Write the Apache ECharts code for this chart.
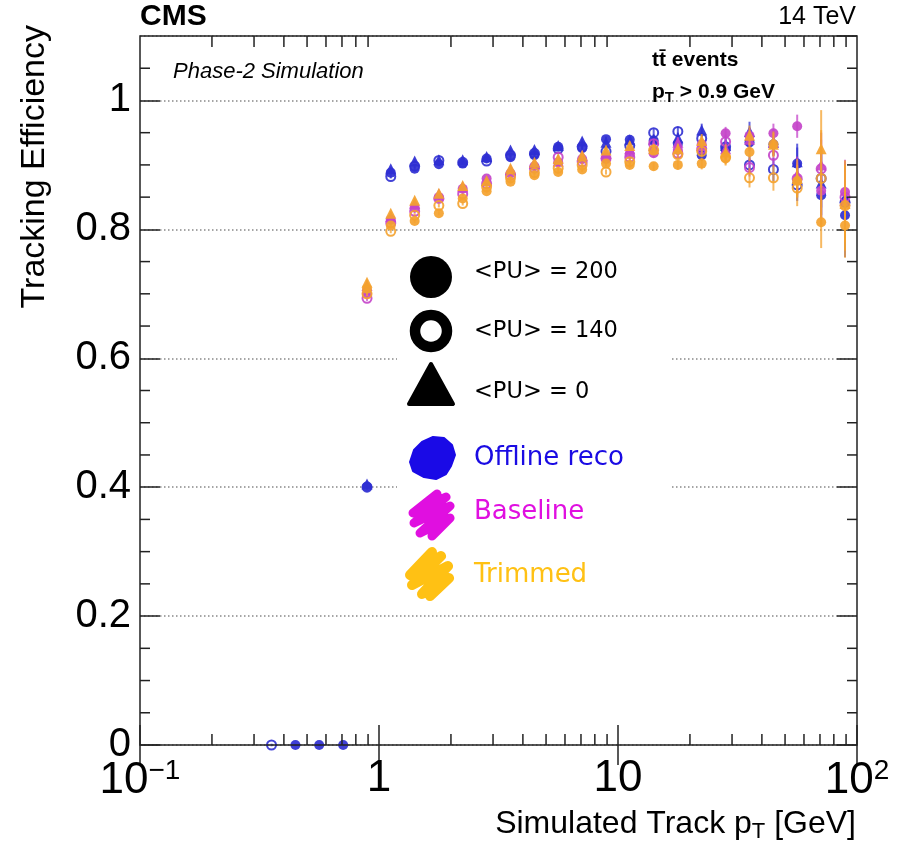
<!DOCTYPE html>
<html>
<head>
<meta charset="utf-8">
<script src="https://cdn.jsdelivr.net/npm/echarts@6/dist/echarts.min.js"></script>
<style>
html, body { margin: 0; padding: 0; background: #fff; }
#chart { width: 898px; height: 846px; }
</style>
</head>
<body>
<div id="chart"></div>
<script>
// Simulated track pT bin centres [GeV]
const ptBins = [0.355, 0.447, 0.562, 0.708, 0.891, 1.12, 1.41, 1.78, 2.24, 2.82, 3.55, 4.47, 5.62,
                7.08, 8.91, 11.2, 14.1, 17.8, 22.4, 28.2, 35.5, 44.7, 56.2, 70.8, 89.1];

// Tracking efficiency, Offline reco
const offlinePU200 = [null, 0, 0, 0, 0.401, 0.888, 0.894, 0.901, 0.902, 0.910, 0.912, 0.915, 0.928,
                      0.926, 0.940, 0.939, 0.938, 0.933, 0.915, 0.924, 0.935, 0.932, 0.902, 0.853, 0.822];
const offlinePU140 = [0, null, null, null, 0.400, 0.882, 0.898, 0.907, 0.904, 0.906, 0.915, 0.918, 0.925,
                      0.928, 0.921, 0.930, 0.950, 0.952, 0.941, 0.928, 0.900, 0.893, 0.869, 0.879, 0.842];
const offlinePU0   = [null, null, null, null, 0.405, 0.894, 0.906, 0.908, 0.908, 0.913, 0.923, 0.924, 0.930,
                      0.937, 0.935, 0.939, 0.940, 0.942, 0.954, 0.930, 0.952, 0.935, 0.905, 0.872, 0.850];
// Tracking efficiency, Baseline
const baselinePU200 = [null, null, null, null, 0.700, 0.815, 0.834, 0.850, 0.863, 0.879, 0.887, 0.898, 0.904,
                       0.909, 0.910, 0.917, 0.918, 0.923, 0.932, 0.949, 0.945, 0.949, 0.960, 0.860, 0.858];
const baselinePU140 = [null, null, null, null, 0.693, 0.810, 0.828, 0.848, 0.855, 0.871, 0.884, 0.895, 0.912,
                       0.905, 0.910, 0.912, 0.933, 0.918, 0.925, 0.936, 0.896, 0.915, 0.879, 0.894, 0.850];
const baselinePU0   = [null, null, null, null, 0.713, 0.820, 0.840, 0.855, 0.866, 0.876, 0.893, 0.902, 0.906,
                       0.915, 0.918, 0.925, 0.930, 0.935, 0.930, 0.925, 0.940, 0.935, 0.885, 0.900, 0.845];
// Tracking efficiency, Trimmed
const trimmedPU200 = [null, null, null, null, 0.708, 0.806, 0.813, 0.825, 0.848, 0.859, 0.874, 0.884, 0.889,
                      0.893, 0.902, 0.900, 0.898, 0.900, 0.902, 0.910, 0.920, 0.932, 0.875, 0.811, 0.806];
const trimmedPU140 = [null, null, null, null, 0.700, 0.797, 0.822, 0.837, 0.840, 0.866, 0.880, 0.888, 0.895,
                      0.900, 0.889, 0.905, 0.923, 0.916, 0.921, 0.912, 0.880, 0.880, 0.864, 0.879, 0.837];
const trimmedPU0   = [null, null, null, null, 0.718, 0.825, 0.845, 0.856, 0.868, 0.876, 0.895, 0.904, 0.910,
                      0.915, 0.923, 0.930, 0.925, 0.925, 0.938, 0.920, 0.946, 0.932, 0.879, 0.925, 0.840];

// Statistical uncertainties (half-length of the error bars)
const errOffline200  = [0, 0.002, 0.002, 0.002, 0.004, 0.003, 0.003, 0.003, 0.003, 0.003, 0.003, 0.003, 0.003,
                        0.004, 0.004, 0.005, 0.006, 0.007, 0.009, 0.011, 0.014, 0.018, 0.025, 0.045, 0.065];
const errOffline140  = [0.002, 0, 0, 0, 0.004, 0.003, 0.003, 0.003, 0.003, 0.003, 0.003, 0.003, 0.003,
                        0.004, 0.004, 0.005, 0.006, 0.007, 0.009, 0.011, 0.014, 0.018, 0.025, 0.045, 0.055];
const errOffline0    = [0, 0, 0, 0, 0.004, 0.003, 0.003, 0.003, 0.003, 0.003, 0.003, 0.003, 0.003,
                        0.004, 0.004, 0.006, 0.007, 0.008, 0.010, 0.012, 0.015, 0.020, 0.028, 0.050, 0.050];
const errBaseline200 = [0, 0, 0, 0, 0.004, 0.003, 0.003, 0.003, 0.003, 0.003, 0.003, 0.003, 0.003,
                        0.004, 0.004, 0.005, 0.006, 0.007, 0.009, 0.010, 0.012, 0.015, 0.018, 0.045, 0.050];
const errBaseline140 = [0, 0, 0, 0, 0.004, 0.003, 0.003, 0.003, 0.003, 0.003, 0.003, 0.003, 0.003,
                        0.004, 0.004, 0.005, 0.006, 0.007, 0.009, 0.011, 0.014, 0.018, 0.025, 0.045, 0.055];
const errBaseline0   = [0, 0, 0, 0, 0.004, 0.003, 0.003, 0.003, 0.003, 0.003, 0.003, 0.003, 0.003,
                        0.004, 0.004, 0.006, 0.007, 0.008, 0.010, 0.012, 0.015, 0.020, 0.028, 0.050, 0.050];
const errTrimmed200  = [0, 0, 0, 0, 0.004, 0.003, 0.003, 0.003, 0.003, 0.003, 0.003, 0.003, 0.003,
                        0.004, 0.004, 0.005, 0.006, 0.007, 0.009, 0.011, 0.014, 0.018, 0.025, 0.040, 0.050];
const errTrimmed140  = [0, 0, 0, 0, 0.004, 0.003, 0.003, 0.003, 0.003, 0.003, 0.003, 0.003, 0.003,
                        0.004, 0.004, 0.005, 0.006, 0.007, 0.009, 0.011, 0.015, 0.020, 0.028, 0.075, 0.070];
const errTrimmed0    = [0, 0, 0, 0, 0.004, 0.003, 0.003, 0.003, 0.003, 0.003, 0.003, 0.003, 0.003,
                        0.004, 0.004, 0.006, 0.007, 0.008, 0.010, 0.012, 0.015, 0.020, 0.030, 0.060, 0.060];

// Axis ticks and labels
const xMinorTicks = [0.2, 0.3, 0.4, 0.5, 0.6, 0.7, 0.8, 0.9, 2, 3, 4, 5, 6, 7, 8, 9, 20, 30, 40, 50, 60, 70, 80, 90];
const yMinorTicks = [0.05, 0.1, 0.15, 0.25, 0.3, 0.35, 0.45, 0.5, 0.55, 0.65, 0.7, 0.75, 0.85, 0.9, 0.95, 1.05];
const xTickLabels = { '-1': '{b|10}{s|−1}', '0': '{b|1}', '1': '{b|10}', '2': '{b|10}{s|2}' };

const BLUE = '#2f2fd2', MAGENTA = '#c444c9', ORANGE = '#f4a22e';

const seriesDefs = [
  { name: 'Offline reco <PU> = 0',   values: offlinePU0,    errors: errOffline0,    color: BLUE,    marker: 'triangle' },
  { name: 'Offline reco <PU> = 140', values: offlinePU140,  errors: errOffline140,  color: BLUE,    marker: 'open' },
  { name: 'Offline reco <PU> = 200', values: offlinePU200,  errors: errOffline200,  color: BLUE,    marker: 'filled' },
  { name: 'Baseline <PU> = 0',       values: baselinePU0,   errors: errBaseline0,   color: MAGENTA, marker: 'triangle' },
  { name: 'Baseline <PU> = 140',     values: baselinePU140, errors: errBaseline140, color: MAGENTA, marker: 'open' },
  { name: 'Baseline <PU> = 200',     values: baselinePU200, errors: errBaseline200, color: MAGENTA, marker: 'filled' },
  { name: 'Trimmed <PU> = 0',        values: trimmedPU0,    errors: errTrimmed0,    color: ORANGE,  marker: 'triangle' },
  { name: 'Trimmed <PU> = 140',      values: trimmedPU140,  errors: errTrimmed140,  color: ORANGE,  marker: 'open' },
  { name: 'Trimmed <PU> = 200',      values: trimmedPU200,  errors: errTrimmed200,  color: ORANGE,  marker: 'filled' }
];

const chart = echarts.init(document.getElementById('chart'), null, { renderer: 'canvas' });

function points(def) {
  const out = [];
  ptBins.forEach((pt, i) => {
    if (def.values[i] !== null) out.push([pt, def.values[i], def.errors[i]]);
  });
  return out;
}

function errorBar(params, api) {
  const x = api.value(0), y = api.value(1), e = api.value(2);
  if (!e) return null;
  const lo = api.coord([x, y - e]);
  const hi = api.coord([x, y + e]);
  return {
    type: 'line',
    shape: { x1: lo[0], y1: lo[1], x2: hi[0], y2: hi[1] },
    style: { stroke: api.visual('color'), lineWidth: 2, opacity: 0.75 }
  };
}

const series = [];
seriesDefs.forEach((def, k) => {
  const data = points(def);
  series.push({
    type: 'custom',
    name: def.name + ' err',
    renderItem: errorBar,
    data: data,
    itemStyle: { color: def.color },
    z: 3 + k,
    silent: true,
    clip: false
  });
  const isOpen = def.marker === 'open';
  series.push({
    type: 'scatter',
    name: def.name,
    data: data,
    symbol: def.marker === 'triangle' ? 'triangle' : 'circle',
    symbolSize: def.marker === 'triangle' ? 11 : (isOpen ? 9 : 10),
    itemStyle: isOpen
      ? { color: 'rgba(255,255,255,0)', borderColor: def.color, borderWidth: 2, opacity: 0.9 }
      : { color: def.color, opacity: 0.92 },
    z: 3 + k,
    clip: false,
    silent: true
  });
});

// Minor tick marks on all four frame sides
series.push({
  type: 'custom',
  name: 'x minor ticks',
  silent: true,
  clip: false,
  z: 20,
  data: xMinorTicks.map(v => [v, 0.5]),
  renderItem: (params, api) => {
    const cs = params.coordSys;
    const x = api.coord([api.value(0), 0])[0];
    const top = cs.y, bottom = cs.y + cs.height;
    return {
      type: 'group',
      children: [
        { type: 'line', shape: { x1: x, y1: bottom, x2: x, y2: bottom - 11 }, style: { stroke: '#222', lineWidth: 1.5 } },
        { type: 'line', shape: { x1: x, y1: top, x2: x, y2: top + 11 }, style: { stroke: '#222', lineWidth: 1.5 } }
      ]
    };
  }
});
series.push({
  type: 'custom',
  name: 'y minor ticks',
  silent: true,
  clip: false,
  z: 20,
  data: yMinorTicks.map(v => [1, v]),
  renderItem: (params, api) => {
    const cs = params.coordSys;
    const y = api.coord([1, api.value(1)])[1];
    const left = cs.x, right = cs.x + cs.width;
    return {
      type: 'group',
      children: [
        { type: 'line', shape: { x1: left, y1: y, x2: left + 10, y2: y }, style: { stroke: '#222', lineWidth: 1.5 } },
        { type: 'line', shape: { x1: right, y1: y, x2: right - 10, y2: y }, style: { stroke: '#222', lineWidth: 1.5 } }
      ]
    };
  }
});

const SANS = '"Liberation Sans", Arial, Helvetica, sans-serif';
const LEG = '"DejaVu Sans", "Noto Sans", sans-serif';

const majorTick = { show: true, inside: true, length: 20, lineStyle: { color: '#222', width: 1.5 } };

const option = {
  backgroundColor: '#fff',
  animation: false,
  grid: { left: 140, right: 41, top: 36, bottom: 101, show: true, borderColor: '#222', borderWidth: 1.5, backgroundColor: 'transparent', z: 10 },
  xAxis: [
    {
      type: 'log', logBase: 10, min: 0.1, max: 100, position: 'bottom',
      axisLine: { show: false }, axisTick: majorTick, splitLine: { show: false },
      axisLabel: {
        margin: 12, color: '#000',
        formatter: v => xTickLabels[String(Math.round(Math.log10(v)))] || '',
        rich: {
          b: { fontFamily: SANS, fontSize: 44, color: '#000' },
          s: { fontFamily: SANS, fontSize: 28, color: '#000', verticalAlign: 'top', padding: [0, 0, 20, 0] }
        }
      }
    },
    {
      type: 'log', logBase: 10, min: 0.1, max: 100, position: 'top',
      axisLine: { show: false }, axisTick: majorTick, splitLine: { show: false }, axisLabel: { show: false }
    }
  ],
  yAxis: [
    {
      type: 'value', min: 0, max: 1.1, interval: 0.2, position: 'left',
      axisLine: { show: false }, axisTick: majorTick,
      splitLine: { show: true, lineStyle: { color: '#888', width: 1.5, type: [1.5, 2.5] } },
      axisLabel: {
        margin: 9, color: '#000', fontFamily: SANS, fontSize: 40, showMaxLabel: false,
        formatter: v => String(+v.toFixed(2))
      }
    },
    {
      type: 'value', min: 0, max: 1.1, interval: 0.2, position: 'right',
      axisLine: { show: false }, axisTick: majorTick, splitLine: { show: false }, axisLabel: { show: false }
    }
  ],
  series: series,
  graphic: [
    // white panel behind the key
    { type: 'rect', z: 1, silent: true, shape: { x: 397, y: 248, width: 273, height: 358 }, style: { fill: '#fff' } },
    // header texts
    { type: 'text', z: 30, x: 140, y: 17, style: { text: 'CMS', font: 'bold 30px ' + SANS, fill: '#000', align: 'left', verticalAlign: 'middle' } },
    { type: 'text', z: 30, x: 856, y: 17, style: { text: '14 TeV', font: '25px ' + SANS, fill: '#000', align: 'right', verticalAlign: 'middle' } },
    { type: 'text', z: 30, x: 173, y: 72, style: { text: 'Phase-2 Simulation', font: 'italic 22px ' + SANS, fill: '#000', align: 'left', verticalAlign: 'middle' } },
    { type: 'text', z: 30, x: 652, y: 60, style: { text: 't\u0074\u0304 events', font: 'bold 21px ' + SANS, fill: '#000', align: 'left', verticalAlign: 'middle' } },
    {
      type: 'text', z: 30, x: 652, y: 92,
      style: {
        text: '{m|p}{sub|T}{m| > 0.9 GeV}', align: 'left', verticalAlign: 'middle',
        rich: {
          m: { font: 'bold 21px ' + SANS, fill: '#000' },
          sub: { font: 'bold 15px ' + SANS, fill: '#000', verticalAlign: 'bottom', padding: [12, 0, 0, 0] }
        }
      }
    },
    // axis titles
    { type: 'text', z: 30, x: 35, y: 25, rotation: Math.PI / 2, style: { text: 'Tracking Efficiency', font: '34px ' + SANS, fill: '#000', align: 'right', verticalAlign: 'middle' } },
    {
      type: 'text', z: 30, x: 856, y: 824,
      style: {
        text: '{m|Simulated Track p}{sub|T}{m| [GeV]}', align: 'right', verticalAlign: 'middle',
        rich: {
          m: { font: '32px ' + SANS, fill: '#000' },
          sub: { font: '22px ' + SANS, fill: '#000', padding: [16, 0, 0, 0] }
        }
      }
    },
    // key: pile-up markers
    { type: 'circle', z: 30, shape: { cx: 431, cy: 277, r: 21 }, style: { fill: '#000' } },
    { type: 'circle', z: 30, shape: { cx: 431, cy: 331, r: 16 }, style: { fill: 'none', stroke: '#000', lineWidth: 10.5 } },
    { type: 'polygon', z: 30, shape: { points: [[431, 364], [453, 404], [409, 404]] }, style: { fill: '#000', stroke: '#000', lineWidth: 4, lineJoin: 'round' } },
    { type: 'text', z: 30, x: 474, y: 272, style: { text: '<PU> = 200', font: '22.5px ' + LEG, fill: '#000', align: 'left', verticalAlign: 'middle' } },
    { type: 'text', z: 30, x: 474, y: 331, style: { text: '<PU> = 140', font: '22.5px ' + LEG, fill: '#000', align: 'left', verticalAlign: 'middle' } },
    { type: 'text', z: 30, x: 474, y: 392, style: { text: '<PU> = 0', font: '22.5px ' + LEG, fill: '#000', align: 'left', verticalAlign: 'middle' } },
    // key: algorithm colours
    {
      type: 'polygon', z: 30,
      shape: { points: [[414, 450], [422, 442], [433, 437], [444, 438], [452, 445], [455, 455], [451, 466], [446, 474], [436, 479], [424, 477], [413, 471], [410, 462]] },
      style: { fill: '#1a0ae6', stroke: '#1a0ae6', lineWidth: 2, lineJoin: 'round' }
    },
    {
      type: 'polyline', z: 30,
      shape: { points: [[437, 494], [413, 513], [446, 497], [414, 523], [450, 506], [420, 533], [450, 518], [432, 536]] },
      style: { stroke: '#e00fe0', lineWidth: 9, lineCap: 'round', lineJoin: 'round', fill: 'none' }
    },
    {
      type: 'polyline', z: 30,
      shape: { points: [[432, 552], [410, 575], [441, 556], [412, 585], [448, 566], [422, 594], [449, 578], [430, 596]] },
      style: { stroke: '#ffc114', lineWidth: 10, lineCap: 'round', lineJoin: 'round', fill: 'none' }
    },
    { type: 'text', z: 30, x: 474, y: 458, style: { text: 'Offline reco', font: '26px ' + LEG, fill: '#1a0be3', align: 'left', verticalAlign: 'middle' } },
    { type: 'text', z: 30, x: 474, y: 512, style: { text: 'Baseline', font: '26px ' + LEG, fill: '#e00fe0', align: 'left', verticalAlign: 'middle' } },
    { type: 'text', z: 30, x: 474, y: 575, style: { text: 'Trimmed', font: '26px ' + LEG, fill: '#ffc114', align: 'left', verticalAlign: 'middle' } }
  ]
};

chart.setOption(option);
</script>
</body>
</html>
